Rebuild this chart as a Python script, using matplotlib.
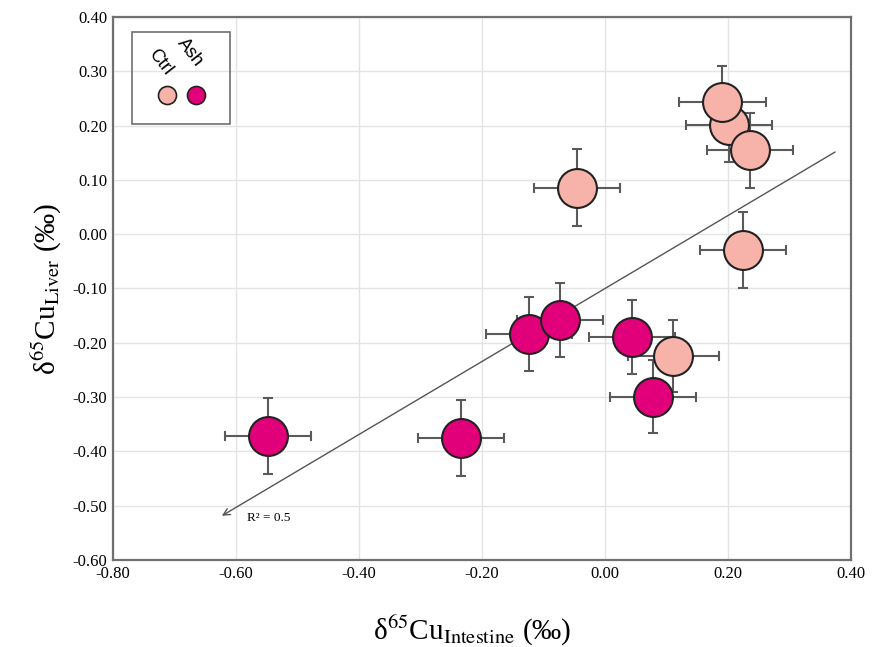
import matplotlib
matplotlib.use("Agg")
import matplotlib.pyplot as plt
from matplotlib.patches import Rectangle
from matplotlib.ticker import MultipleLocator, FormatStrFormatter

plt.rcParams['font.family'] = ['Liberation Serif', 'DejaVu Serif']
plt.rcParams['mathtext.fontset'] = 'stix'
plt.rcParams['axes.unicode_minus'] = False

# Ctrl group (light pink)
ctrl_x = [0.202, 0.191, 0.235, -0.046, 0.225, 0.111]
ctrl_y = [0.201, 0.243, 0.155, 0.086, -0.030, -0.224]
ctrl_xerr = [0.070, 0.070, 0.070, 0.070, 0.070, 0.074]
ctrl_yerr = [0.068, 0.066, 0.069, 0.070, 0.070, 0.066]

# Ash group (magenta)
ash_x = [-0.548, -0.234, -0.123, -0.073, 0.044, 0.078]
ash_y = [-0.372, -0.375, -0.184, -0.158, -0.189, -0.299]
ash_xerr = [0.070, 0.070, 0.070, 0.070, 0.070, 0.070]
ash_yerr = [0.070, 0.070, 0.068, 0.068, 0.068, 0.068]

# trend line
trend_slope = 0.672
trend_icpt = -0.100
trend_x0, trend_x1 = 0.374, -0.623
r2_text = "R² = 0.5"

ctrl_col = '#F7B3A9'
ash_col = '#E2007A'
edge = '#222222'
errc = '#5a5a5a'

fig = plt.figure(figsize=(8.76, 6.47), dpi=100)
ax = fig.add_axes([0.129, 0.1345, 0.8425, 0.8392])

ax.set_xlim(-0.8, 0.4)
ax.set_ylim(-0.6, 0.4)
ax.xaxis.set_major_locator(MultipleLocator(0.2))
ax.yaxis.set_major_locator(MultipleLocator(0.1))
ax.xaxis.set_major_formatter(FormatStrFormatter('%.2f'))
ax.yaxis.set_major_formatter(FormatStrFormatter('%.2f'))
ax.grid(True, color='#e4e4e4', lw=1)
ax.set_axisbelow(True)
ax.tick_params(length=0, labelsize=12, pad=4)
for s in ax.spines.values():
    s.set_color('#707070')
    s.set_linewidth(1.6)

# trend line with arrow
ax.annotate('', xy=(trend_x1, trend_slope * trend_x1 + trend_icpt),
            xytext=(trend_x0, trend_slope * trend_x0 + trend_icpt),
            arrowprops=dict(arrowstyle='->', color='#555555', lw=1,
                            shrinkA=0, shrinkB=0, mutation_scale=12),
            zorder=2)
ax.text(-0.582, -0.523, r2_text, fontsize=9.5, ha='left', va='center')

# error bars first, then markers
for xs, ys, xe, ye in [(ash_x, ash_y, ash_xerr, ash_yerr),
                       (ctrl_x, ctrl_y, ctrl_xerr, ctrl_yerr)]:
    ax.errorbar(xs, ys, xerr=xe, yerr=ye, fmt='none', ecolor=errc,
                elinewidth=1.5, capsize=3.5, capthick=1.5, zorder=3)

z = 4
for xs, ys, col in [(ash_x, ash_y, ash_col), (ctrl_x, ctrl_y, ctrl_col)]:
    for x, y in zip(xs, ys):
        ax.plot(x, y, 'o', ms=28, mfc=col, mec=edge, mew=1.5, zorder=z)
        z += 0.01

# hand-made legend box
ax.add_patch(Rectangle((0.0257, 0.803), 0.1328, 0.1694, transform=ax.transAxes,
                       fill=False, ec='#707070', lw=1.2, zorder=6))
ax.plot(0.0732, 0.8564, 'o', ms=13, mfc=ctrl_col, mec=edge, mew=1.2,
        transform=ax.transAxes, zorder=7)
ax.plot(0.1125, 0.8564, 'o', ms=13, mfc=ash_col, mec=edge, mew=1.2,
        transform=ax.transAxes, zorder=7)
ax.text(0.0637, 0.917, 'Ctrl', rotation=-52, ha='center', va='center',
        fontsize=13, family='Liberation Sans', transform=ax.transAxes, zorder=7)
ax.text(0.104, 0.9355, 'Ash', rotation=-52, ha='center', va='center',
        fontsize=13, family='Liberation Sans', transform=ax.transAxes, zorder=7)

ax.set_xlabel('δ$^{65}$Cu$_{\\mathrm{Intestine}}$ (‰)', fontsize=21)
ax.xaxis.set_label_coords(0.487, -0.1)
ax.set_ylabel('δ$^{65}$Cu$_{\\mathrm{Liver}}$ (‰)', fontsize=21, labelpad=6)

fig.savefig('out.png', dpi=100)
